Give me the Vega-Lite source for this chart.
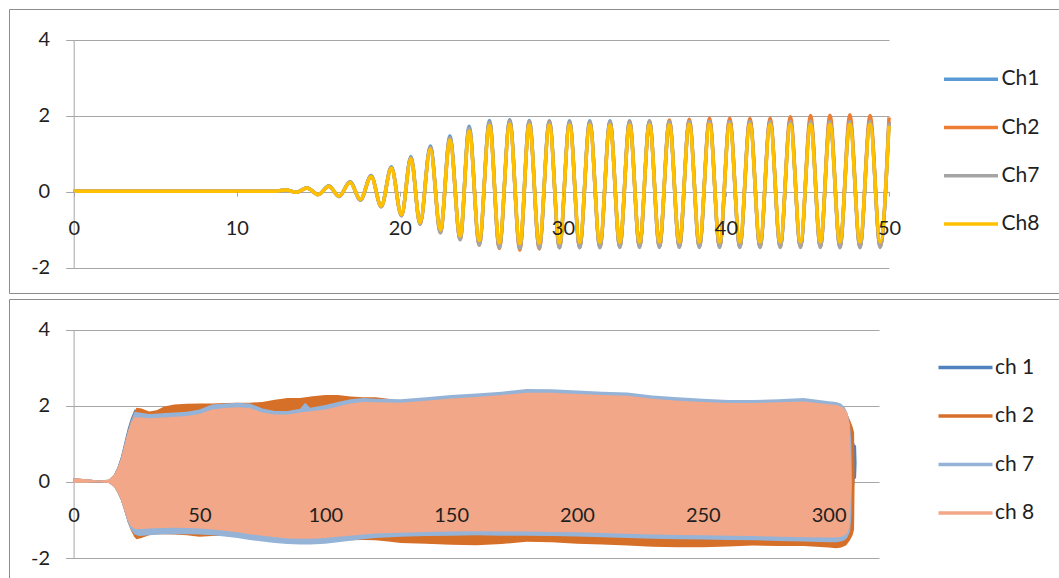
{
  "$schema": "https://vega.github.io/schema/vega-lite/v6.json",
  "padding": {"left": 8, "top": 8, "right": 0, "bottom": 0},
  "background": "white",
  "spacing": 4,
  "config": {
    "font": "Lato",
    "axis": {
      "labelFont": "Lato", "labelFontSize": 20, "labelColor": "#1f1f1f",
      "domainColor": "#a6a6a6", "tickColor": "#a6a6a6", "gridColor": "#a6a6a6",
      "domainWidth": 1, "tickWidth": 1, "gridWidth": 1, "labelFlush": false, "title": null,
      "labelExpr": "toString(datum.value)"
    },
    "legend": {
      "labelFont": "Lato", "labelFontSize": 21, "labelColor": "#1f1f1f", "padding": 0, "title": null
    }
  },
  "resolve": {"scale": {"color": "independent", "x": "independent", "y": "independent"}, "legend": {"color": "independent"}},
  "vconcat": [
    {
      "width": 1050,
      "height": 284,
      "view": {"stroke": "#8c8c8c", "strokeWidth": 1, "strokeDasharray": [1050, 284, 1334, 0], "fill": "white"},
      "data": {"values": [
        {"x": 0, "Ch1": 0.02, "Ch2": 0.02, "Ch7": 0.02, "Ch8": 0.02},
        {"x": 12.4, "Ch1": 0.02, "Ch2": 0.02, "Ch7": 0.02, "Ch8": 0.02},
        {"x": 13.0, "Ch1": 0.05, "Ch2": 0.05, "Ch7": 0.05, "Ch8": 0.05},
        {"x": 13.65, "Ch1": -0.01, "Ch2": -0.01, "Ch7": -0.01, "Ch8": -0.01},
        {"x": 14.3, "Ch1": 0.11, "Ch2": 0.1, "Ch7": 0.1, "Ch8": 0.1},
        {"x": 15.0, "Ch1": -0.07, "Ch2": -0.07, "Ch7": -0.07, "Ch8": -0.07},
        {"x": 15.65, "Ch1": 0.16, "Ch2": 0.15, "Ch7": 0.15, "Ch8": 0.15},
        {"x": 16.27, "Ch1": -0.12, "Ch2": -0.12, "Ch7": -0.12, "Ch8": -0.11},
        {"x": 16.95, "Ch1": 0.27, "Ch2": 0.26, "Ch7": 0.26, "Ch8": 0.25},
        {"x": 17.58, "Ch1": -0.21, "Ch2": -0.21, "Ch7": -0.22, "Ch8": -0.2},
        {"x": 18.24, "Ch1": 0.43, "Ch2": 0.41, "Ch7": 0.41, "Ch8": 0.4},
        {"x": 18.86, "Ch1": -0.38, "Ch2": -0.39, "Ch7": -0.39, "Ch8": -0.37},
        {"x": 19.48, "Ch1": 0.66, "Ch2": 0.64, "Ch7": 0.64, "Ch8": 0.62},
        {"x": 20.1, "Ch1": -0.61, "Ch2": -0.63, "Ch7": -0.63, "Ch8": -0.6},
        {"x": 20.68, "Ch1": 0.93, "Ch2": 0.9, "Ch7": 0.9, "Ch8": 0.87},
        {"x": 21.24, "Ch1": -0.83, "Ch2": -0.85, "Ch7": -0.86, "Ch8": -0.81},
        {"x": 21.87, "Ch1": 1.21, "Ch2": 1.17, "Ch7": 1.17, "Ch8": 1.13},
        {"x": 22.49, "Ch1": -1.04, "Ch2": -1.07, "Ch7": -1.08, "Ch8": -1.0},
        {"x": 23.07, "Ch1": 1.47, "Ch2": 1.42, "Ch7": 1.42, "Ch8": 1.36},
        {"x": 23.7, "Ch1": -1.22, "Ch2": -1.25, "Ch7": -1.26, "Ch8": -1.16},
        {"x": 24.25, "Ch1": 1.73, "Ch2": 1.67, "Ch7": 1.68, "Ch8": 1.6},
        {"x": 24.87, "Ch1": -1.36, "Ch2": -1.4, "Ch7": -1.4, "Ch8": -1.28},
        {"x": 25.5, "Ch1": 1.88, "Ch2": 1.83, "Ch7": 1.83, "Ch8": 1.75},
        {"x": 26.1, "Ch1": -1.44, "Ch2": -1.49, "Ch7": -1.47, "Ch8": -1.34},
        {"x": 26.74, "Ch1": 1.9, "Ch2": 1.87, "Ch7": 1.86, "Ch8": 1.78},
        {"x": 27.36, "Ch1": -1.46, "Ch2": -1.53, "Ch7": -1.49, "Ch8": -1.36},
        {"x": 27.94, "Ch1": 1.88, "Ch2": 1.86, "Ch7": 1.85, "Ch8": 1.77},
        {"x": 28.55, "Ch1": -1.45, "Ch2": -1.5, "Ch7": -1.48, "Ch8": -1.35},
        {"x": 29.17, "Ch1": 1.87, "Ch2": 1.85, "Ch7": 1.84, "Ch8": 1.76},
        {"x": 29.79, "Ch1": -1.44, "Ch2": -1.47, "Ch7": -1.47, "Ch8": -1.34},
        {"x": 30.41, "Ch1": 1.87, "Ch2": 1.84, "Ch7": 1.84, "Ch8": 1.76},
        {"x": 31.03, "Ch1": -1.44, "Ch2": -1.46, "Ch7": -1.47, "Ch8": -1.33},
        {"x": 31.65, "Ch1": 1.87, "Ch2": 1.84, "Ch7": 1.84, "Ch8": 1.76},
        {"x": 32.27, "Ch1": -1.43, "Ch2": -1.46, "Ch7": -1.47, "Ch8": -1.33},
        {"x": 32.89, "Ch1": 1.87, "Ch2": 1.84, "Ch7": 1.84, "Ch8": 1.76},
        {"x": 33.49, "Ch1": -1.43, "Ch2": -1.45, "Ch7": -1.46, "Ch8": -1.33},
        {"x": 34.09, "Ch1": 1.87, "Ch2": 1.85, "Ch7": 1.84, "Ch8": 1.76},
        {"x": 34.7, "Ch1": -1.43, "Ch2": -1.45, "Ch7": -1.46, "Ch8": -1.32},
        {"x": 35.31, "Ch1": 1.87, "Ch2": 1.86, "Ch7": 1.85, "Ch8": 1.77},
        {"x": 35.92, "Ch1": -1.43, "Ch2": -1.45, "Ch7": -1.46, "Ch8": -1.32},
        {"x": 36.53, "Ch1": 1.87, "Ch2": 1.89, "Ch7": 1.85, "Ch8": 1.77},
        {"x": 37.14, "Ch1": -1.43, "Ch2": -1.45, "Ch7": -1.46, "Ch8": -1.32},
        {"x": 37.75, "Ch1": 1.88, "Ch2": 1.91, "Ch7": 1.86, "Ch8": 1.78},
        {"x": 38.37, "Ch1": -1.43, "Ch2": -1.45, "Ch7": -1.46, "Ch8": -1.32},
        {"x": 38.99, "Ch1": 1.88, "Ch2": 1.94, "Ch7": 1.86, "Ch8": 1.78},
        {"x": 39.61, "Ch1": -1.43, "Ch2": -1.45, "Ch7": -1.46, "Ch8": -1.32},
        {"x": 40.23, "Ch1": 1.88, "Ch2": 1.94, "Ch7": 1.86, "Ch8": 1.78},
        {"x": 40.85, "Ch1": -1.43, "Ch2": -1.45, "Ch7": -1.46, "Ch8": -1.32},
        {"x": 41.47, "Ch1": 1.88, "Ch2": 1.93, "Ch7": 1.86, "Ch8": 1.78},
        {"x": 42.09, "Ch1": -1.43, "Ch2": -1.45, "Ch7": -1.46, "Ch8": -1.32},
        {"x": 42.71, "Ch1": 1.88, "Ch2": 1.94, "Ch7": 1.86, "Ch8": 1.78},
        {"x": 43.33, "Ch1": -1.43, "Ch2": -1.45, "Ch7": -1.46, "Ch8": -1.32},
        {"x": 43.95, "Ch1": 1.88, "Ch2": 1.98, "Ch7": 1.86, "Ch8": 1.78},
        {"x": 44.57, "Ch1": -1.43, "Ch2": -1.45, "Ch7": -1.46, "Ch8": -1.32},
        {"x": 45.19, "Ch1": 1.88, "Ch2": 2.01, "Ch7": 1.86, "Ch8": 1.78},
        {"x": 45.79, "Ch1": -1.43, "Ch2": -1.45, "Ch7": -1.46, "Ch8": -1.32},
        {"x": 46.38, "Ch1": 1.88, "Ch2": 2.02, "Ch7": 1.86, "Ch8": 1.78},
        {"x": 46.99, "Ch1": -1.43, "Ch2": -1.45, "Ch7": -1.47, "Ch8": -1.32},
        {"x": 47.6, "Ch1": 1.88, "Ch2": 2.03, "Ch7": 1.86, "Ch8": 1.78},
        {"x": 48.22, "Ch1": -1.43, "Ch2": -1.45, "Ch7": -1.47, "Ch8": -1.32},
        {"x": 48.84, "Ch1": 1.88, "Ch2": 2.01, "Ch7": 1.86, "Ch8": 1.78},
        {"x": 49.46, "Ch1": -1.43, "Ch2": -1.45, "Ch7": -1.46, "Ch8": -1.32},
        {"x": 50, "Ch1": 1.84, "Ch2": 1.96, "Ch7": 1.82, "Ch8": 1.74}
      ]},
      "transform": [{"fold": ["Ch1", "Ch2", "Ch7", "Ch8"], "as": ["ch", "v"]}],
      "mark": {"type": "line", "strokeWidth": 3.5, "interpolate": "monotone"},
      "encoding": {
        "x": {
          "field": "x", "type": "quantitative",
          "scale": {"domain": [0, 50], "range": [64.7, 880], "nice": false, "zero": false},
          "axis": {"values": [0, 10, 20, 30, 40, 50], "grid": false, "domain": false, "zindex": 1, "offset": -101.8, "tickSize": 5, "labelPadding": 22}
        },
        "y": {
          "field": "v", "type": "quantitative",
          "scale": {"domain": [-2, 4], "range": [258.9, 30.9], "nice": false, "zero": false},
          "axis": {"values": [-2, 0, 2, 4], "grid": true, "offset": -64.7, "tickSize": 8, "labelPadding": 16}
        },
        "color": {
          "field": "ch", "type": "nominal",
          "scale": {"domain": ["Ch1", "Ch2", "Ch7", "Ch8"], "range": ["#5B9BD5", "#ED7D31", "#A5A5A5", "#FFC000"]},
          "legend": {
            "orient": "none", "legendX": 946.5, "legendY": 54.7,
            "symbolType": "M-2,0H2", "symbolSize": 729, "symbolStrokeWidth": 3.5,
            "labelOffset": 15, "rowPadding": 22.3
          }
        }
      }
    },
    {
      "width": 1050,
      "height": 281,
      "view": {"stroke": "#8c8c8c", "strokeWidth": 1, "strokeDasharray": [1050, 1331, 281, 0], "fill": "white"},
      "data": {"values": [
        {"t": 0, "ch": "ch 1", "hi": 0.1, "lo": -0.03},
        {"t": 10, "ch": "ch 1", "hi": 0.04, "lo": -0.01},
        {"t": 14, "ch": "ch 1", "hi": 0.06, "lo": -0.03},
        {"t": 16, "ch": "ch 1", "hi": 0.19, "lo": -0.12},
        {"t": 17.4, "ch": "ch 1", "hi": 0.38, "lo": -0.27},
        {"t": 18.8, "ch": "ch 1", "hi": 0.66, "lo": -0.47},
        {"t": 20.1, "ch": "ch 1", "hi": 1.02, "lo": -0.74},
        {"t": 21.5, "ch": "ch 1", "hi": 1.4, "lo": -1.04},
        {"t": 22.8, "ch": "ch 1", "hi": 1.68, "lo": -1.24},
        {"t": 24.2, "ch": "ch 1", "hi": 1.9, "lo": -1.36},
        {"t": 26, "ch": "ch 1", "hi": 1.8, "lo": -1.38},
        {"t": 30, "ch": "ch 1", "hi": 1.74, "lo": -1.36},
        {"t": 50, "ch": "ch 1", "hi": 1.86, "lo": -1.34},
        {"t": 70, "ch": "ch 1", "hi": 2.02, "lo": -1.48},
        {"t": 90, "ch": "ch 1", "hi": 1.88, "lo": -1.6},
        {"t": 110, "ch": "ch 1", "hi": 2.13, "lo": -1.5},
        {"t": 130, "ch": "ch 1", "hi": 2.13, "lo": -1.4},
        {"t": 150, "ch": "ch 1", "hi": 2.24, "lo": -1.37},
        {"t": 170, "ch": "ch 1", "hi": 2.33, "lo": -1.37},
        {"t": 190, "ch": "ch 1", "hi": 2.39, "lo": -1.38},
        {"t": 210, "ch": "ch 1", "hi": 2.33, "lo": -1.41},
        {"t": 230, "ch": "ch 1", "hi": 2.23, "lo": -1.45},
        {"t": 250, "ch": "ch 1", "hi": 2.14, "lo": -1.47},
        {"t": 270, "ch": "ch 1", "hi": 2.11, "lo": -1.49},
        {"t": 290, "ch": "ch 1", "hi": 2.16, "lo": -1.52},
        {"t": 303, "ch": "ch 1", "hi": 2.06, "lo": -1.54},
        {"t": 307, "ch": "ch 1", "hi": 1.8, "lo": -1.4},
        {"t": 309.3, "ch": "ch 1", "hi": 1.2, "lo": -0.9},
        {"t": 310.3, "ch": "ch 1", "hi": 0.98, "lo": 0.08},
        {"t": 310.9, "ch": "ch 1", "hi": 0.95, "lo": 0.1},
        {"t": 311.1, "ch": "ch 1", "hi": 0.5, "lo": 0.5},

        {"t": 0, "ch": "ch 2", "hi": 0.1, "lo": -0.03},
        {"t": 5, "ch": "ch 2", "hi": 0.07, "lo": -0.02},
        {"t": 10, "ch": "ch 2", "hi": 0.04, "lo": -0.01},
        {"t": 14, "ch": "ch 2", "hi": 0.06, "lo": -0.03},
        {"t": 16, "ch": "ch 2", "hi": 0.18, "lo": -0.12},
        {"t": 17.4, "ch": "ch 2", "hi": 0.36, "lo": -0.27},
        {"t": 18.8, "ch": "ch 2", "hi": 0.62, "lo": -0.47},
        {"t": 20.1, "ch": "ch 2", "hi": 0.97, "lo": -0.74},
        {"t": 21.5, "ch": "ch 2", "hi": 1.33, "lo": -1.06},
        {"t": 22.8, "ch": "ch 2", "hi": 1.62, "lo": -1.28},
        {"t": 24.2, "ch": "ch 2", "hi": 1.86, "lo": -1.45},
        {"t": 25, "ch": "ch 2", "hi": 1.95, "lo": -1.5},
        {"t": 27, "ch": "ch 2", "hi": 1.93, "lo": -1.47},
        {"t": 30, "ch": "ch 2", "hi": 1.85, "lo": -1.4},
        {"t": 33, "ch": "ch 2", "hi": 1.88, "lo": -1.37},
        {"t": 36, "ch": "ch 2", "hi": 1.98, "lo": -1.37},
        {"t": 40, "ch": "ch 2", "hi": 2.03, "lo": -1.38},
        {"t": 45, "ch": "ch 2", "hi": 2.05, "lo": -1.4},
        {"t": 50, "ch": "ch 2", "hi": 2.06, "lo": -1.44},
        {"t": 55, "ch": "ch 2", "hi": 2.06, "lo": -1.42},
        {"t": 60, "ch": "ch 2", "hi": 2.07, "lo": -1.42},
        {"t": 65, "ch": "ch 2", "hi": 2.08, "lo": -1.44},
        {"t": 70, "ch": "ch 2", "hi": 2.08, "lo": -1.46},
        {"t": 75, "ch": "ch 2", "hi": 2.1, "lo": -1.5},
        {"t": 80, "ch": "ch 2", "hi": 2.16, "lo": -1.52},
        {"t": 85, "ch": "ch 2", "hi": 2.2, "lo": -1.54},
        {"t": 90, "ch": "ch 2", "hi": 2.2, "lo": -1.56},
        {"t": 95, "ch": "ch 2", "hi": 2.25, "lo": -1.57},
        {"t": 100, "ch": "ch 2", "hi": 2.28, "lo": -1.57},
        {"t": 105, "ch": "ch 2", "hi": 2.28, "lo": -1.55},
        {"t": 110, "ch": "ch 2", "hi": 2.24, "lo": -1.53},
        {"t": 115, "ch": "ch 2", "hi": 2.22, "lo": -1.52},
        {"t": 120, "ch": "ch 2", "hi": 2.22, "lo": -1.53},
        {"t": 125, "ch": "ch 2", "hi": 2.18, "lo": -1.56},
        {"t": 130, "ch": "ch 2", "hi": 2.12, "lo": -1.6},
        {"t": 140, "ch": "ch 2", "hi": 2.14, "lo": -1.62},
        {"t": 150, "ch": "ch 2", "hi": 2.18, "lo": -1.65},
        {"t": 160, "ch": "ch 2", "hi": 2.2, "lo": -1.66},
        {"t": 170, "ch": "ch 2", "hi": 2.24, "lo": -1.63},
        {"t": 180, "ch": "ch 2", "hi": 2.3, "lo": -1.57},
        {"t": 190, "ch": "ch 2", "hi": 2.3, "lo": -1.58},
        {"t": 200, "ch": "ch 2", "hi": 2.28, "lo": -1.62},
        {"t": 210, "ch": "ch 2", "hi": 2.25, "lo": -1.64},
        {"t": 220, "ch": "ch 2", "hi": 2.22, "lo": -1.67},
        {"t": 230, "ch": "ch 2", "hi": 2.16, "lo": -1.7},
        {"t": 240, "ch": "ch 2", "hi": 2.1, "lo": -1.71},
        {"t": 250, "ch": "ch 2", "hi": 2.08, "lo": -1.71},
        {"t": 260, "ch": "ch 2", "hi": 2.06, "lo": -1.69},
        {"t": 270, "ch": "ch 2", "hi": 2.06, "lo": -1.67},
        {"t": 280, "ch": "ch 2", "hi": 2.08, "lo": -1.68},
        {"t": 290, "ch": "ch 2", "hi": 2.1, "lo": -1.68},
        {"t": 300, "ch": "ch 2", "hi": 2.04, "lo": -1.72},
        {"t": 303, "ch": "ch 2", "hi": 2.03, "lo": -1.74},
        {"t": 305, "ch": "ch 2", "hi": 2.0, "lo": -1.72},
        {"t": 307, "ch": "ch 2", "hi": 1.85, "lo": -1.66},
        {"t": 308.5, "ch": "ch 2", "hi": 1.62, "lo": -1.52},
        {"t": 309.5, "ch": "ch 2", "hi": 1.45, "lo": -1.4},
        {"t": 310.1, "ch": "ch 2", "hi": 1.3, "lo": -1.25},
        {"t": 310.3, "ch": "ch 2", "hi": 0.0, "lo": 0.0},

        {"t": 0, "ch": "ch 7", "hi": 0.1, "lo": -0.03},
        {"t": 5, "ch": "ch 7", "hi": 0.07, "lo": -0.02},
        {"t": 10, "ch": "ch 7", "hi": 0.04, "lo": -0.01},
        {"t": 14, "ch": "ch 7", "hi": 0.06, "lo": -0.03},
        {"t": 16, "ch": "ch 7", "hi": 0.18, "lo": -0.12},
        {"t": 17.4, "ch": "ch 7", "hi": 0.36, "lo": -0.27},
        {"t": 18.8, "ch": "ch 7", "hi": 0.62, "lo": -0.47},
        {"t": 20.1, "ch": "ch 7", "hi": 0.97, "lo": -0.74},
        {"t": 21.5, "ch": "ch 7", "hi": 1.33, "lo": -1.06},
        {"t": 22.8, "ch": "ch 7", "hi": 1.6, "lo": -1.26},
        {"t": 24.2, "ch": "ch 7", "hi": 1.84, "lo": -1.38},
        {"t": 26, "ch": "ch 7", "hi": 1.82, "lo": -1.42},
        {"t": 30, "ch": "ch 7", "hi": 1.78, "lo": -1.4},
        {"t": 35, "ch": "ch 7", "hi": 1.8, "lo": -1.38},
        {"t": 40, "ch": "ch 7", "hi": 1.82, "lo": -1.37},
        {"t": 45, "ch": "ch 7", "hi": 1.84, "lo": -1.37},
        {"t": 50, "ch": "ch 7", "hi": 1.9, "lo": -1.38},
        {"t": 55, "ch": "ch 7", "hi": 2.03, "lo": -1.4},
        {"t": 60, "ch": "ch 7", "hi": 2.06, "lo": -1.43},
        {"t": 65, "ch": "ch 7", "hi": 2.08, "lo": -1.47},
        {"t": 70, "ch": "ch 7", "hi": 2.06, "lo": -1.52},
        {"t": 75, "ch": "ch 7", "hi": 1.93, "lo": -1.56},
        {"t": 80, "ch": "ch 7", "hi": 1.86, "lo": -1.6},
        {"t": 85, "ch": "ch 7", "hi": 1.86, "lo": -1.63},
        {"t": 90, "ch": "ch 7", "hi": 1.92, "lo": -1.64},
        {"t": 92, "ch": "ch 7", "hi": 2.08, "lo": -1.64},
        {"t": 94, "ch": "ch 7", "hi": 1.95, "lo": -1.64},
        {"t": 100, "ch": "ch 7", "hi": 2.02, "lo": -1.62},
        {"t": 105, "ch": "ch 7", "hi": 2.1, "lo": -1.58},
        {"t": 110, "ch": "ch 7", "hi": 2.17, "lo": -1.54},
        {"t": 115, "ch": "ch 7", "hi": 2.2, "lo": -1.5},
        {"t": 120, "ch": "ch 7", "hi": 2.18, "lo": -1.47},
        {"t": 130, "ch": "ch 7", "hi": 2.17, "lo": -1.44},
        {"t": 140, "ch": "ch 7", "hi": 2.22, "lo": -1.42},
        {"t": 150, "ch": "ch 7", "hi": 2.28, "lo": -1.41},
        {"t": 160, "ch": "ch 7", "hi": 2.32, "lo": -1.4},
        {"t": 170, "ch": "ch 7", "hi": 2.37, "lo": -1.41},
        {"t": 180, "ch": "ch 7", "hi": 2.44, "lo": -1.41},
        {"t": 190, "ch": "ch 7", "hi": 2.43, "lo": -1.42},
        {"t": 200, "ch": "ch 7", "hi": 2.4, "lo": -1.43},
        {"t": 210, "ch": "ch 7", "hi": 2.37, "lo": -1.45},
        {"t": 220, "ch": "ch 7", "hi": 2.35, "lo": -1.47},
        {"t": 230, "ch": "ch 7", "hi": 2.27, "lo": -1.49},
        {"t": 240, "ch": "ch 7", "hi": 2.22, "lo": -1.5},
        {"t": 250, "ch": "ch 7", "hi": 2.18, "lo": -1.51},
        {"t": 260, "ch": "ch 7", "hi": 2.15, "lo": -1.52},
        {"t": 270, "ch": "ch 7", "hi": 2.15, "lo": -1.53},
        {"t": 280, "ch": "ch 7", "hi": 2.17, "lo": -1.55},
        {"t": 290, "ch": "ch 7", "hi": 2.2, "lo": -1.56},
        {"t": 300, "ch": "ch 7", "hi": 2.12, "lo": -1.58},
        {"t": 303, "ch": "ch 7", "hi": 2.1, "lo": -1.58},
        {"t": 305, "ch": "ch 7", "hi": 2.05, "lo": -1.56},
        {"t": 306.5, "ch": "ch 7", "hi": 1.95, "lo": -1.52},
        {"t": 307.5, "ch": "ch 7", "hi": 1.8, "lo": -1.45},
        {"t": 308.5, "ch": "ch 7", "hi": 1.5, "lo": -1.3},
        {"t": 309, "ch": "ch 7", "hi": 1.0, "lo": -0.9},
        {"t": 309.3, "ch": "ch 7", "hi": 0.02, "lo": 0.0},

        {"t": 0, "ch": "ch 8", "hi": 0.1, "lo": -0.03},
        {"t": 5, "ch": "ch 8", "hi": 0.07, "lo": -0.02},
        {"t": 10, "ch": "ch 8", "hi": 0.04, "lo": -0.01},
        {"t": 14, "ch": "ch 8", "hi": 0.06, "lo": -0.03},
        {"t": 16, "ch": "ch 8", "hi": 0.18, "lo": -0.12},
        {"t": 17.4, "ch": "ch 8", "hi": 0.35, "lo": -0.26},
        {"t": 18.8, "ch": "ch 8", "hi": 0.6, "lo": -0.46},
        {"t": 20.1, "ch": "ch 8", "hi": 0.94, "lo": -0.72},
        {"t": 21.5, "ch": "ch 8", "hi": 1.3, "lo": -1.0},
        {"t": 22.8, "ch": "ch 8", "hi": 1.55, "lo": -1.17},
        {"t": 24.2, "ch": "ch 8", "hi": 1.7, "lo": -1.23},
        {"t": 26, "ch": "ch 8", "hi": 1.7, "lo": -1.24},
        {"t": 30, "ch": "ch 8", "hi": 1.67, "lo": -1.22},
        {"t": 35, "ch": "ch 8", "hi": 1.69, "lo": -1.21},
        {"t": 40, "ch": "ch 8", "hi": 1.71, "lo": -1.2},
        {"t": 45, "ch": "ch 8", "hi": 1.73, "lo": -1.21},
        {"t": 50, "ch": "ch 8", "hi": 1.78, "lo": -1.22},
        {"t": 55, "ch": "ch 8", "hi": 1.9, "lo": -1.25},
        {"t": 60, "ch": "ch 8", "hi": 1.94, "lo": -1.28},
        {"t": 65, "ch": "ch 8", "hi": 1.96, "lo": -1.32},
        {"t": 70, "ch": "ch 8", "hi": 1.94, "lo": -1.37},
        {"t": 75, "ch": "ch 8", "hi": 1.82, "lo": -1.41},
        {"t": 80, "ch": "ch 8", "hi": 1.77, "lo": -1.45},
        {"t": 85, "ch": "ch 8", "hi": 1.77, "lo": -1.48},
        {"t": 90, "ch": "ch 8", "hi": 1.82, "lo": -1.49},
        {"t": 95, "ch": "ch 8", "hi": 1.86, "lo": -1.49},
        {"t": 100, "ch": "ch 8", "hi": 1.9, "lo": -1.47},
        {"t": 105, "ch": "ch 8", "hi": 1.98, "lo": -1.44},
        {"t": 110, "ch": "ch 8", "hi": 2.06, "lo": -1.41},
        {"t": 115, "ch": "ch 8", "hi": 2.1, "lo": -1.38},
        {"t": 120, "ch": "ch 8", "hi": 2.09, "lo": -1.35},
        {"t": 130, "ch": "ch 8", "hi": 2.08, "lo": -1.33},
        {"t": 140, "ch": "ch 8", "hi": 2.13, "lo": -1.31},
        {"t": 150, "ch": "ch 8", "hi": 2.19, "lo": -1.3},
        {"t": 160, "ch": "ch 8", "hi": 2.23, "lo": -1.29},
        {"t": 170, "ch": "ch 8", "hi": 2.28, "lo": -1.3},
        {"t": 180, "ch": "ch 8", "hi": 2.34, "lo": -1.3},
        {"t": 190, "ch": "ch 8", "hi": 2.34, "lo": -1.31},
        {"t": 200, "ch": "ch 8", "hi": 2.31, "lo": -1.32},
        {"t": 210, "ch": "ch 8", "hi": 2.28, "lo": -1.34},
        {"t": 220, "ch": "ch 8", "hi": 2.26, "lo": -1.36},
        {"t": 230, "ch": "ch 8", "hi": 2.18, "lo": -1.38},
        {"t": 240, "ch": "ch 8", "hi": 2.13, "lo": -1.39},
        {"t": 250, "ch": "ch 8", "hi": 2.1, "lo": -1.4},
        {"t": 260, "ch": "ch 8", "hi": 2.07, "lo": -1.41},
        {"t": 270, "ch": "ch 8", "hi": 2.07, "lo": -1.42},
        {"t": 280, "ch": "ch 8", "hi": 2.09, "lo": -1.44},
        {"t": 290, "ch": "ch 8", "hi": 2.11, "lo": -1.45},
        {"t": 300, "ch": "ch 8", "hi": 2.04, "lo": -1.46},
        {"t": 303, "ch": "ch 8", "hi": 2.02, "lo": -1.46},
        {"t": 305, "ch": "ch 8", "hi": 1.98, "lo": -1.44},
        {"t": 306.5, "ch": "ch 8", "hi": 1.9, "lo": -1.4},
        {"t": 307.5, "ch": "ch 8", "hi": 1.8, "lo": -1.33},
        {"t": 308.3, "ch": "ch 8", "hi": 1.5, "lo": -1.15},
        {"t": 308.8, "ch": "ch 8", "hi": 0.6, "lo": -0.4},
        {"t": 309, "ch": "ch 8", "hi": 0.02, "lo": 0.0}
      ]},
      "mark": {"type": "area", "opacity": 1, "interpolate": "linear"},
      "encoding": {
        "x": {
          "field": "t", "type": "quantitative",
          "scale": {"domain": [0, 320], "range": [64.6, 870], "nice": false, "zero": false},
          "axis": {"values": [0, 50, 100, 150, 200, 250, 300], "grid": false, "domain": false, "ticks": false, "zindex": 1, "offset": -97.8, "labelPadding": 23}
        },
        "y": {
          "field": "hi", "type": "quantitative",
          "scale": {"domain": [-2, 4], "range": [259.2, 30.5], "nice": false, "zero": false},
          "axis": {"values": [-2, 0, 2, 4], "grid": true, "offset": -64.6, "tickSize": 8, "labelPadding": 16}
        },
        "y2": {"field": "lo"},
        "color": {
          "field": "ch", "type": "nominal",
          "scale": {"domain": ["ch 1", "ch 2", "ch 7", "ch 8"], "range": ["#4F81BD", "#D66F27", "#95B3D7", "#F1A788"]},
          "legend": {
            "orient": "none", "legendX": 943, "legendY": 55,
            "symbolType": "M-2,-0.13H2V0.13H-2Z", "symbolSize": 729, "symbolStrokeWidth": 0,
            "labelOffset": 16, "rowPadding": 24.5
          }
        }
      }
    }
  ]
}
